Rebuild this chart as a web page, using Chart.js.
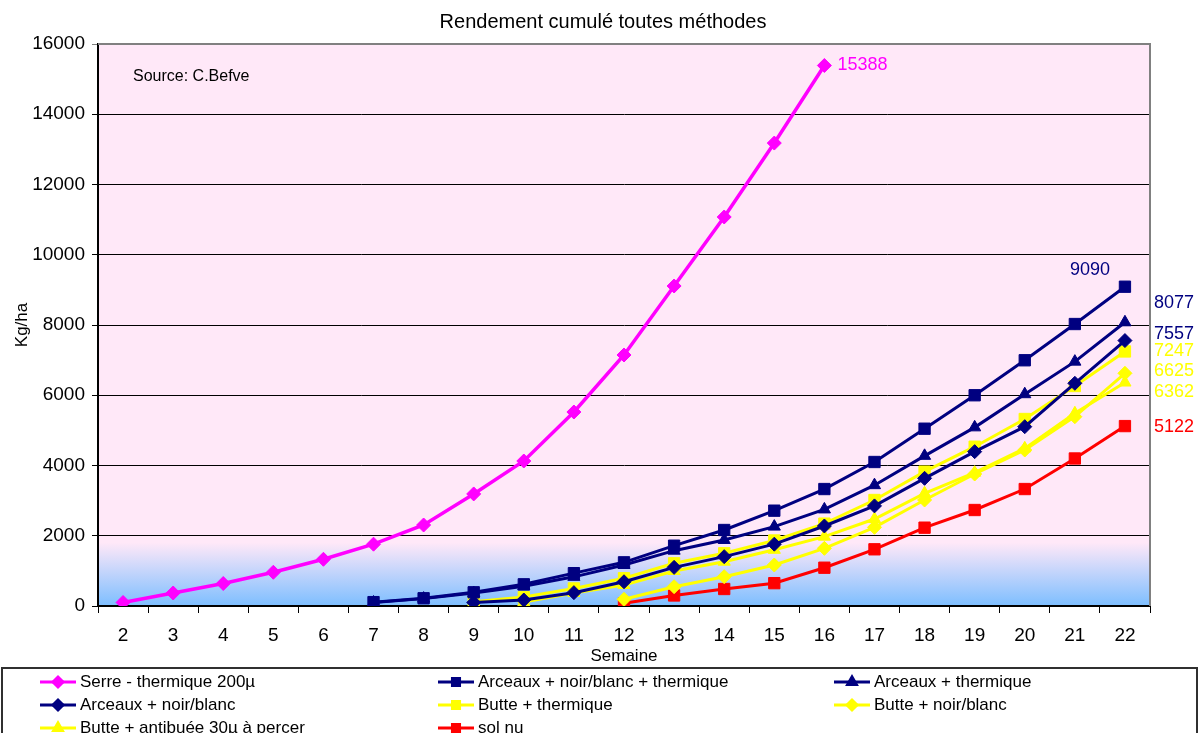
<!DOCTYPE html>
<html lang="fr">
<head>
<meta charset="utf-8">
<title>Rendement cumulé toutes méthodes</title>
<script src="https://cdn.jsdelivr.net/npm/chart.js@4/dist/chart.umd.min.js"></script>
<style>
  html, body { margin: 0; padding: 0; background: #ffffff; }
  #wrap { width: 1200px; height: 733px; position: relative; }
</style>
</head>
<body>
<div id="wrap"><canvas id="chart" width="1200" height="733"></canvas></div>
<script>
// Semaines (axe X)
const weeks = ['2','3','4','5','6','7','8','9','10','11','12','13','14','15','16','17','18','19','20','21','22'];

// Rendement cumulé (kg/ha) par méthode, une valeur par semaine (null = pas encore de récolte)
const serreThermique = [100, 370, 640, 960, 1330, 1760, 2306, 3190, 4128, 5523, 7146, 9110, 11075, 13180, 15388, null, null, null, null, null, null];
const arceauxNbThermique = [null, null, null, null, null, 110, 220, 390, 617, 935, 1243, 1717, 2164, 2714, 3330, 4100, 5048, 6000, 6996, 8028, 9090];
const arceauxThermique = [null, null, null, null, null, 100, 210, 370, 560, 830, 1167, 1575, 1880, 2260, 2750, 3440, 4275, 5086, 6030, 6957, 8077];
const arceauxNb = [null, null, null, null, null, null, null, 100, 170, 380, 690, 1100, 1405, 1760, 2278, 2850, 3635, 4395, 5105, 6340, 7557];
const butteThermique = [null, null, null, null, null, null, null, 120, 255, 500, 790, 1215, 1500, 1865, 2345, 3018, 3825, 4535, 5324, 6263, 7247];
const butteNb = [null, null, null, null, null, null, null, null, null, null, 190, 550, 835, 1167, 1642, 2240, 3018, 3758, 4441, 5390, 6625];
const butteAntibuee = [null, null, null, null, null, null, null, null, 110, 370, 598, 996, 1262, 1600, 1974, 2477, 3208, 3796, 4488, 5486, 6362];
const solNu = [null, null, null, null, null, null, null, null, null, null, 77, 300, 484, 650, 1090, 1614, 2230, 2733, 3330, 4200, 5122];

// Graduations de l'axe Y
const yTicks = [0, 2000, 4000, 6000, 8000, 10000, 12000, 14000, 16000];

const MAGENTA = '#FF00FF', NAVY = '#000080', YELLOW = '#FFFF00', RED = '#FF0000';
const FONT = '"Liberation Sans", Arial, sans-serif';

function series(label, data, color, style, radius, width) {
  return {
    label, data,
    borderColor: color, backgroundColor: color,
    pointBackgroundColor: color, pointBorderColor: color,
    pointStyle: style, pointRadius: radius, pointHoverRadius: radius,
    pointBorderWidth: 1, borderWidth: width, tension: 0, spanGaps: false
  };
}

const datasets = [
  series('Serre - thermique 200µ', serreThermique, MAGENTA, 'rectRot', 7, 3.5),
  series('Arceaux + noir/blanc + thermique', arceauxNbThermique, NAVY, 'rect', 8, 3),
  series('Arceaux + thermique', arceauxThermique, NAVY, 'triangle', 7, 3),
  series('Arceaux + noir/blanc', arceauxNb, NAVY, 'rectRot', 7, 3),
  series('Butte + thermique', butteThermique, YELLOW, 'rect', 8, 3),
  series('Butte + noir/blanc', butteNb, YELLOW, 'rectRot', 7, 3),
  series('Butte + antibuée 30µ à percer', butteAntibuee, YELLOW, 'triangle', 7, 3),
  series('sol nu', solNu, RED, 'rect', 8, 3)
];

// Fond de la zone de tracé : rose avec dégradé bleu en bas
const backgroundPlugin = {
  id: 'plotBackground',
  beforeDraw(chart) {
    const {ctx, chartArea: a, scales: {y}} = chart;
    ctx.save();
    ctx.fillStyle = '#FFE8F8';
    ctx.fillRect(a.left, a.top, a.right - a.left, a.bottom - a.top);
    const g0 = y.getPixelForValue(1800);
    const grad = ctx.createLinearGradient(0, g0, 0, a.bottom);
    grad.addColorStop(0, 'rgba(255,232,248,1)');
    grad.addColorStop(1, 'rgba(125,190,255,1)');
    ctx.fillStyle = grad;
    ctx.fillRect(a.left, g0, a.right - a.left, a.bottom - g0);
    ctx.restore();
  },
  afterDraw(chart) {
    const {ctx, chartArea: a} = chart;
    ctx.save();
    ctx.strokeStyle = '#808080';
    ctx.lineWidth = 2;
    ctx.beginPath();
    ctx.moveTo(a.left, a.top);
    ctx.lineTo(a.right, a.top);
    ctx.lineTo(a.right, a.bottom);
    ctx.stroke();
    ctx.restore();
  }
};

// Titre, source et légende
const annotationPlugin = {
  id: 'annotations',
  afterDraw(chart) {
    const {ctx} = chart;
    ctx.save();
    ctx.fillStyle = '#000';
    ctx.textBaseline = 'middle';
    ctx.textAlign = 'center';
    ctx.font = '20px ' + FONT;
    ctx.fillText('Rendement cumulé toutes méthodes', 603, 22);
    ctx.textAlign = 'left';
    ctx.font = '16px ' + FONT;
    ctx.fillText('Source: C.Befve', 133, 77);

    // Cadre de légende
    ctx.strokeStyle = '#303030';
    ctx.lineWidth = 2;
    ctx.strokeRect(2, 668, 1195, 80);

    const cols = [40, 438, 834];
    const rows = [682, 705, 728];
    ctx.font = '17px ' + FONT;
    datasets.forEach((ds, i) => {
      const cx = cols[i % 3], cy = rows[Math.floor(i / 3)];
      ctx.strokeStyle = ds.borderColor;
      ctx.lineWidth = 3;
      ctx.beginPath();
      ctx.moveTo(cx, cy);
      ctx.lineTo(cx + 36, cy);
      ctx.stroke();
      Chart.helpers.drawPoint(ctx, {pointStyle: ds.pointStyle, radius: 5, borderWidth: 1}, cx + 18, cy);
      ctx.fillStyle = ds.borderColor;
      ctx.fill();
      ctx.fillStyle = '#000';
      ctx.fillText(ds.label, cx + 40, cy);
    });
    ctx.restore();
  }
};

// Valeurs finales affichées à côté des courbes
const endLabels = [
  {ds: 0, dx: 13, dy: 0, align: 'left', right: false},
  {ds: 1, dx: -35, dy: -17, align: 'center', right: false},
  {ds: 2, dy: -19, right: true},
  {ds: 3, dy: -7, right: true},
  {ds: 4, dy: 0, right: true},
  {ds: 5, dy: -2, right: true},
  {ds: 6, dy: 9, right: true},
  {ds: 7, dy: 1, right: true}
];
const valueLabelPlugin = {
  id: 'valueLabels',
  afterDatasetsDraw(chart) {
    const {ctx, chartArea: a} = chart;
    ctx.save();
    ctx.font = '18px ' + FONT;
    ctx.textBaseline = 'middle';
    endLabels.forEach(l => {
      const ds = chart.data.datasets[l.ds];
      const meta = chart.getDatasetMeta(l.ds);
      let idx = ds.data.length - 1;
      while (ds.data[idx] === null) idx--;
      const pt = meta.data[idx];
      ctx.fillStyle = ds.borderColor;
      if (l.right) {
        ctx.textAlign = 'left';
        ctx.fillText(String(ds.data[idx]), a.right + 4, pt.y + l.dy);
      } else {
        ctx.textAlign = l.align;
        ctx.fillText(String(ds.data[idx]), pt.x + l.dx, pt.y + l.dy);
      }
    });
    ctx.restore();
  }
};

new Chart(document.getElementById('chart'), {
  type: 'line',
  data: { labels: weeks, datasets },
  plugins: [backgroundPlugin, valueLabelPlugin, annotationPlugin],
  options: {
    responsive: false,
    animation: false,
    layout: { padding: { top: 44, left: 12, right: 50, bottom: 65 } },
    plugins: { legend: { display: false }, title: { display: false }, tooltip: { enabled: false } },
    scales: {
      x: {
        type: 'category',
        offset: true,
        grid: { offset: true, drawOnChartArea: false, color: '#000', tickLength: 7, lineWidth: 1 },
        border: { color: '#000', width: 2 },
        ticks: { color: '#000', font: { family: FONT, size: 19 }, padding: 11, maxRotation: 0, autoSkip: false },
        title: { display: true, text: 'Semaine', color: '#000', font: { family: FONT, size: 17 }, padding: { top: 0, bottom: 1 } },
        afterFit(scale) { scale.height = 62; }
      },
      y: {
        min: yTicks[0], max: yTicks[yTicks.length - 1],
        afterBuildTicks(scale) { scale.ticks = yTicks.map(v => ({ value: v })); },
        grid: {
          color: ctx => (ctx.tick && ctx.tick.value === 16000 ? '#808080' : '#000'),
          lineWidth: 1, tickLength: 6
        },
        border: { color: '#000', width: 2 },
        ticks: { color: '#000', font: { family: FONT, size: 19 }, padding: 7, callback: v => String(v) },
        title: { display: true, text: 'Kg/ha', color: '#000', font: { family: FONT, size: 17 }, padding: 0 },
        afterFit(scale) { scale.width = 86; }
      }
    }
  }
});
</script>
</body>
</html>
